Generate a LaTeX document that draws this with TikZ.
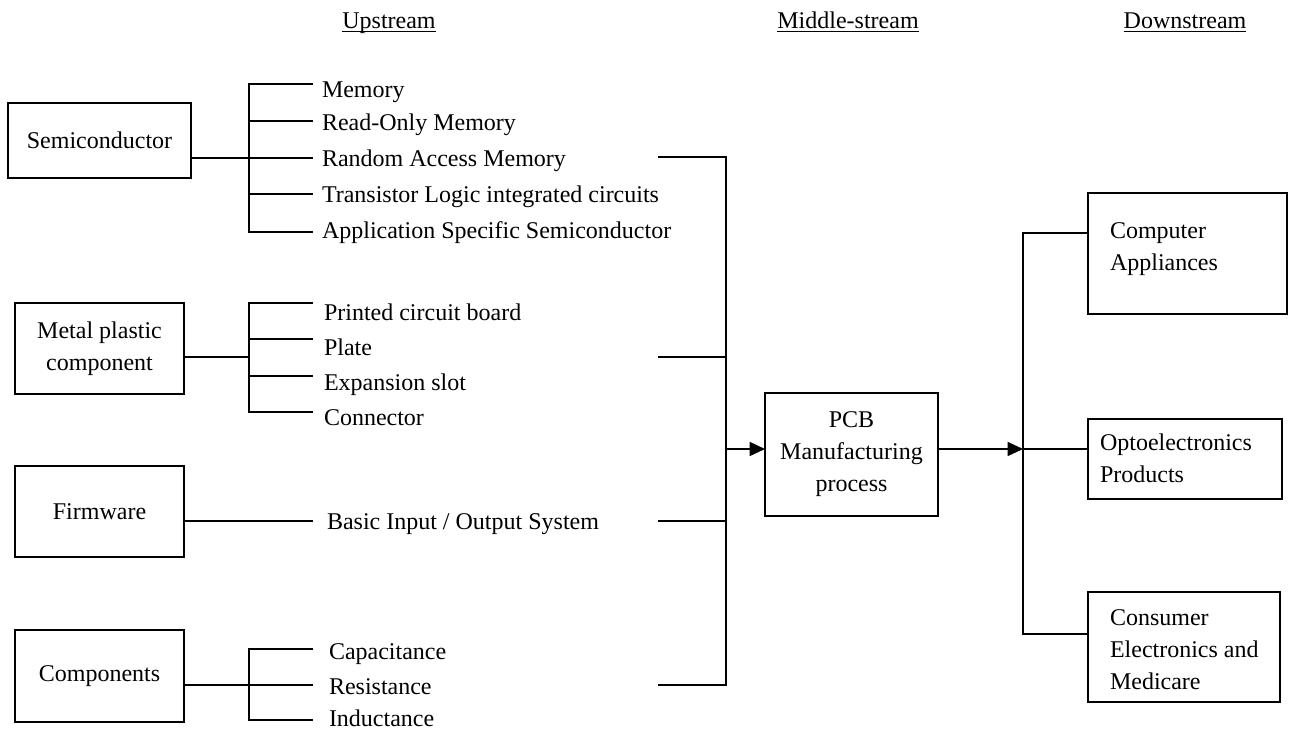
\documentclass[tikz,border=0pt]{standalone}
\usepackage{fontspec}
\setmainfont{Liberation Serif}
\usetikzlibrary{arrows.meta}
\begin{document}
\begin{tikzpicture}[x=0.75pt,y=-0.75pt,
  every node/.style={font=\fontsize{18pt}{24pt}\selectfont, inner sep=0pt, outer sep=0pt},
  box/.style={draw, line width=1.1pt, align=center},
  ln/.style={line width=1.1pt},
  uline/.style={line width=1.3pt},
  arr/.style={line width=1.1pt, -{Triangle[length=11.5pt,width=10.5pt]}},
  item/.style={anchor=base west},
  hdr/.style={anchor=base}
]
\useasboundingbox (0,0) rectangle (1289,729);

% headers
\node[hdr] (hu) at (389,28) {Upstream};
\node[hdr] (hm) at (848,28) {Middle-stream};
\node[hdr] (hd) at (1185,28) {Downstream};
\draw[uline] ([yshift=-2.6pt]hu.base west) -- ([yshift=-2.6pt]hu.base east);
\draw[uline] ([yshift=-2.6pt]hm.base west) -- ([yshift=-2.6pt]hm.base east);
\draw[uline] ([yshift=-2.6pt]hd.base west) -- ([yshift=-2.6pt]hd.base east);

% left boxes
\node[box, minimum width=137.25pt, minimum height=56.25pt] (semi) at (99.5,140.5) {Semiconductor};
\node[box, minimum width=126.75pt, minimum height=68.25pt] (metal) at (99.5,348.5) {Metal plastic\\component};
\node[box, minimum width=126.75pt, minimum height=68.25pt] (firm) at (99.5,511.5) {Firmware};
\node[box, minimum width=126.75pt, minimum height=69pt] (comp) at (99.5,676) {Components};

% middle box
\node[box, minimum width=129.75pt, minimum height=92.25pt] (pcb) at (851.5,454.5) {PCB\\Manufacturing\\process};

% right boxes
\node[box, minimum width=149.25pt, minimum height=90.75pt] (ca) at (1187.5,253.5) {};
\node[anchor=west, align=left] (caT) at (1110,249) {Computer\\Appliances};
\node[box, minimum width=145.5pt, minimum height=60pt] (opto) at (1185,459) {};
\node[anchor=west, align=left] (optoT) at (1100,458.5) {Optoelectronics\\Products};
\node[box, minimum width=144pt, minimum height=82.5pt] (cons) at (1184,647) {};
\node[anchor=west, align=left] (consT) at (1110,650) {Consumer\\Electronics and\\Medicare};

% item texts
\node[item] (t1) at (322,97) {Memory};
\node[item] (t2) at (322,130) {Read-Only Memory};
\node[item] (t3) at (322,166) {Random Access Memory};
\node[item] (t4) at (322,202) {Transistor Logic integrated circuits};
\node[item] (t5) at (322,238) {Application Specific Semiconductor};
\node[item] (p1) at (324,320) {Printed circuit board};
\node[item] (p2) at (324,355) {Plate};
\node[item] (p3) at (324,390) {Expansion slot};
\node[item] (p4) at (324,425) {Connector};
\node[item] (f1) at (327,529) {Basic Input / Output System};
\node[item] (c1) at (329,659) {Capacitance};
\node[item] (c2) at (329,694) {Resistance};
\node[item] (c3) at (329,726) {Inductance};

% semiconductor bracket
\coordinate (sv) at (249,158);
\coordinate (sb1) at (313,84);
\coordinate (sb2) at (313,121);
\coordinate (sb3) at (313,158);
\coordinate (sb4) at (313,194);
\coordinate (sb5) at (313,232);
\draw[ln] (semi.east |- sv) -- (sb3);
\draw[ln] (sb1) -- (sb1 -| sv) -- (sb5 -| sv) -- (sb5);
\draw[ln] (sb2 -| sv) -- (sb2);
\draw[ln] (sb4 -| sv) -- (sb4);

% metal bracket
\coordinate (mv) at (249,357);
\coordinate (mb1) at (313,303);
\coordinate (mb2) at (313,339);
\coordinate (mb3) at (313,376);
\coordinate (mb4) at (313,412);
\draw[ln] (metal.east |- mv) -- (mv);
\draw[ln] (mb1) -- (mb1 -| mv) -- (mb4 -| mv) -- (mb4);
\draw[ln] (mb2 -| mv) -- (mb2);
\draw[ln] (mb3 -| mv) -- (mb3);

% firmware
\coordinate (fe) at (313,521);
\draw[ln] (firm.east |- fe) -- (fe);

% components bracket
\coordinate (cv) at (249,685);
\coordinate (cb1) at (313,649);
\coordinate (cb2) at (313,685);
\coordinate (cb3) at (313,720);
\draw[ln] (comp.east |- cv) -- (cb2);
\draw[ln] (cb1) -- (cb1 -| cv) -- (cb3 -| cv) -- (cb3);

% collector to PCB
\coordinate (r1) at (658,157);
\coordinate (r2) at (658,357);
\coordinate (r3) at (658,521);
\coordinate (r4) at (658,685);
\coordinate (va) at (726,449);
\draw[ln] (r1) -- (r1 -| va) -- (r4 -| va) -- (r4);
\draw[ln] (r2) -- (r2 -| va);
\draw[ln] (r3) -- (r3 -| va);
\draw[arr] (va) -- (va -| pcb.west);

% PCB to downstream
\coordinate (vb) at (1023,449);
\coordinate (wt) at (1023,233);
\coordinate (wb) at (1023,634);
\draw[arr] (pcb.east |- vb) -- (vb);
\draw[ln] (vb) -- (vb -| opto.west);
\draw[ln] (wt -| ca.west) -- (wt) -- (wb) -- (wb -| cons.west);
\end{tikzpicture}
\end{document}
